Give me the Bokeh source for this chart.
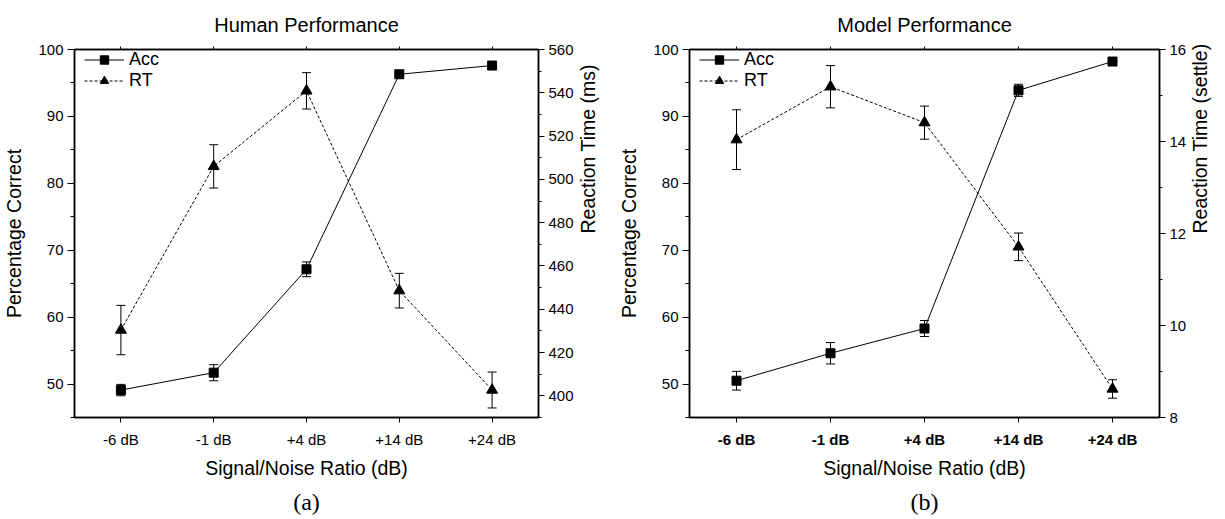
import math
from bokeh.plotting import figure
from bokeh.models import (ColumnDataSource, FactorRange, Range1d, LinearAxis, CategoricalAxis,
                          Whisker, Legend, LegendItem, SingleIntervalTicker, Title, TeeHead)
from bokeh.layouts import row
from bokeh.embed import file_html
from bokeh.resources import INLINE

snr = ["-6 dB", "-1 dB", "+4 dB", "+14 dB", "+24 dB"]

human_acc = [49.1, 51.7, 67.15, 96.3, 97.6]
human_acc_err = [0.85, 1.2, 1.1, 0.3, 0.3]
human_rt = [430.4, 506.0, 540.9, 448.6, 402.7]
human_rt_err = [11.4, 10.0, 8.4, 8.0, 8.3]

model_acc = [50.5, 54.6, 58.3, 93.9, 98.2]
model_acc_err = [1.4, 1.6, 1.2, 0.9, 0.3]
model_rt = [14.04, 15.19, 14.41, 11.71, 8.62]
model_rt_err = [0.65, 0.46, 0.36, 0.3, 0.2]

FONT = "Liberation Sans"


def style_axis(ax, label_size="15px"):
    ax.axis_line_color = "black"
    ax.axis_line_width = 1.5
    ax.major_tick_line_color = "black"
    ax.minor_tick_line_color = "black"
    ax.major_tick_in = 0
    ax.minor_tick_in = 0
    ax.major_label_text_font = FONT
    ax.major_label_text_font_size = label_size
    ax.major_label_text_color = "black"
    ax.axis_label_text_font = FONT
    ax.axis_label_text_font_size = "19.5px"
    ax.axis_label_text_font_style = "normal"
    ax.axis_label_text_color = "black"


def make_panel(title, tag, acc, acc_err, rt, rt_err, rt_lo, rt_hi, rt_step, rt_label,
               bold_x, width, borders):
    src = ColumnDataSource(dict(
        x=snr, acc=acc,
        acc_up=[a + e for a, e in zip(acc, acc_err)],
        acc_lo=[a - e for a, e in zip(acc, acc_err)],
        rt=rt,
        rt_up=[a + e for a, e in zip(rt, rt_err)],
        rt_lo=[a - e for a, e in zip(rt, rt_err)],
    ))
    bl, br, bt, bb = borders
    p = figure(x_range=FactorRange(*snr), y_range=Range1d(45, 100),
               width=width, height=519, output_backend="svg", toolbar_location=None,
               min_border_left=bl, min_border_right=br, min_border_top=bt, min_border_bottom=bb)
    p.extra_y_ranges = {"rt": Range1d(rt_lo, rt_hi)}
    p.grid.visible = False
    p.outline_line_color = "black"
    p.outline_line_width = 1.5
    p.background_fill_color = "white"
    p.border_fill_color = "white"

    # title
    p.title.text = title
    p.title.align = "center"
    p.title.text_font = FONT
    p.title.text_font_size = "20px"
    p.title.text_font_style = "normal"
    p.title.text_color = "black"
    p.title.standoff = 21

    # left axis
    ya = p.yaxis[0]
    ya.ticker = SingleIntervalTicker(interval=10, num_minor_ticks=2)
    style_axis(ya)
    ya.major_tick_out = 7
    ya.minor_tick_out = 4
    ya.major_label_standoff = 4
    ya.axis_label = "Percentage Correct"
    ya.axis_label_standoff = 10

    # bottom axis
    xa = p.xaxis[0]
    style_axis(xa)
    xa.major_tick_out = 5
    xa.major_label_standoff = 8
    xa.axis_label = "Signal/Noise Ratio (dB)"
    xa.axis_label_standoff = 6
    if bold_x:
        xa.major_label_text_font_style = "bold"

    # right axis
    ra = LinearAxis(y_range_name="rt",
                    ticker=SingleIntervalTicker(interval=rt_step, num_minor_ticks=2))
    style_axis(ra)
    ra.major_tick_out = 6
    ra.minor_tick_out = 3
    ra.major_label_standoff = 4
    ra.axis_label = rt_label
    ra.axis_label_standoff = 11
    ra.axis_label_orientation = math.pi / 2
    p.add_layout(ra, "right")

    # top axis (ticks only)
    ta = CategoricalAxis()
    style_axis(ta)
    ta.major_label_text_color = None
    ta.major_label_text_font_size = "1px"
    ta.major_tick_out = 3
    ta.major_label_standoff = 0
    p.add_layout(ta, "above")

    # Acc
    acc_line = p.line("x", "acc", source=src, line_color="black", line_width=1)
    acc_pts = p.scatter("x", "acc", source=src, marker="square", size=9,
                        fill_color="black", line_color="black")
    p.add_layout(Whisker(source=src, base="x", upper="acc_up", lower="acc_lo",
                         line_color="black", line_width=1,
                         upper_head=TeeHead(size=9, line_color="black", line_width=1),
                         lower_head=TeeHead(size=9, line_color="black", line_width=1)))
    # RT
    rt_line = p.line("x", "rt", source=src, line_color="black", line_width=1,
                     line_dash="3 2", y_range_name="rt")
    rt_pts = p.scatter("x", "rt", source=src, marker="triangle", size=11,
                       fill_color="black", line_color="black", y_range_name="rt")
    p.add_layout(Whisker(source=src, base="x", upper="rt_up", lower="rt_lo",
                         y_range_name="rt", line_color="black", line_width=1,
                         upper_head=TeeHead(size=9, line_color="black", line_width=1),
                         lower_head=TeeHead(size=9, line_color="black", line_width=1)))

    legend = Legend(items=[LegendItem(label="Acc", renderers=[acc_line, acc_pts]),
                           LegendItem(label="RT", renderers=[rt_line, rt_pts])],
                    location=(10, 326), border_line_color=None, background_fill_alpha=0,
                    glyph_width=40, glyph_height=21, label_height=21, spacing=0,
                    padding=0, margin=0, label_standoff=5,
                    label_text_font=FONT, label_text_font_size="18px",
                    label_text_color="black")
    p.add_layout(legend)

    p.add_layout(Title(text=tag, align="center", text_font="Liberation Serif",
                       text_font_size="24px", text_font_style="normal",
                       text_color="black"), "below")
    return p


p1 = make_panel("Human Performance", "(a)", human_acc, human_acc_err, human_rt, human_rt_err,
                390, 560, 20, "Reaction Time (ms)", False, 612, (74, 70, 49, 100))
p2 = make_panel("Model Performance", "(b)", model_acc, model_acc_err, model_rt, model_rt_err,
                8, 16, 2, "Reaction Time (settle)", True, 613, (77, 66, 47, 97))

layout = row(p1, p2)
open("out.html", "w").write(file_html(layout, INLINE))
